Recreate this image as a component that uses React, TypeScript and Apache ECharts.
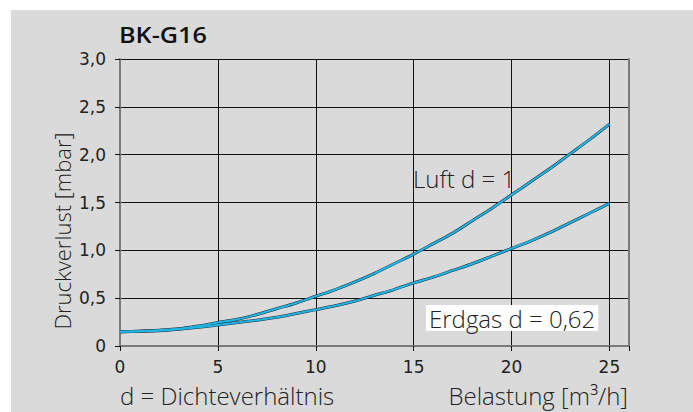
import React, { useEffect, useRef } from "react";
import * as echarts from "echarts";

const xValues = [0, 1, 2, 3, 4, 5, 6, 7, 8, 9, 10, 11, 12, 13, 14, 15, 16, 17, 18, 19, 20, 21, 22, 23, 24, 25];
const luft = [0.15, 0.155, 0.165, 0.18, 0.21, 0.245, 0.28, 0.33, 0.39, 0.45, 0.52, 0.59, 0.67, 0.76, 0.86, 0.96, 1.07, 1.18, 1.31, 1.44, 1.58, 1.72, 1.86, 2.01, 2.16, 2.32];
const erdgas = [0.15, 0.155, 0.16, 0.175, 0.195, 0.22, 0.245, 0.27, 0.3, 0.34, 0.38, 0.42, 0.47, 0.53, 0.59, 0.66, 0.72, 0.79, 0.86, 0.94, 1.02, 1.1, 1.19, 1.29, 1.39, 1.49];
const title = "BK-G16";
const yTitle = "Druckverlust [mbar]";
const xTitleLeft = "d = Dichteverhältnis";
const xTitleRight = "Belastung [m³/h]";
const luftLabel = "Luft d = 1";
const erdgasLabel = "Erdgas d = 0,62";

const FONT = "'Open Sans', 'Noto Sans', sans-serif";
const TICKFONT = "'DejaVu Sans', sans-serif";
const TXT = "#222";

export default function App() {
  const ref = useRef<HTMLDivElement>(null);
  useEffect(() => {
    const chart = echarts.init(ref.current!, null, { renderer: "svg" });
    const pair = (arr: number[]) => xValues.map((x, i) => [x, arr[i]]);
    const mkSeries = (name: string, arr: number[]) => [
      {
        name: name + "-edge",
        type: "line",
        data: pair(arr),
        showSymbol: false,
        symbol: "none",
        smooth: 0.3,
        lineStyle: { color: "#1d3240", width: 3 },
        z: 3,
      },
      {
        name,
        type: "line",
        data: pair(arr),
        showSymbol: false,
        symbol: "none",
        smooth: 0.3,
        lineStyle: { color: "#22b4e2", width: 2 },
        z: 4,
      },
    ];
    chart.setOption({
      animation: false,
      backgroundColor: "#ffffff",
      grid: { left: 120, top: 59, right: 64, bottom: 66, containLabel: false },
      xAxis: {
        type: "value",
        min: 0,
        max: 26,
        interval: 5,
        axisLine: { show: true, onZero: false, lineStyle: { color: "#7a7a7a", width: 2 } },
        axisTick: { show: true, inside: false, length: 5, lineStyle: { color: "#111", width: 1 } },
        axisLabel: {
          margin: 12,
          color: TXT,
          fontSize: 17,
          fontFamily: TICKFONT,
          formatter: (v: number) => (v % 5 === 0 ? String(v) : ""),
        },
        splitLine: { show: true, lineStyle: { color: "#111", width: 1 } },
      },
      yAxis: [
        {
          type: "value",
          min: 0,
          max: 3,
          interval: 0.5,
          axisLine: { show: true, lineStyle: { color: "#7a7a7a", width: 2 } },
          axisTick: { show: true, inside: false, length: 5, lineStyle: { color: "#111", width: 1 } },
          axisLabel: {
            margin: 14,
            color: TXT,
            fontSize: 17,
            fontFamily: TICKFONT,
            formatter: (v: number) => (v === 0 ? "0" : v.toFixed(1).replace(".", ",")),
          },
          splitLine: { show: true, lineStyle: { color: "#111", width: 1 } },
        },
        {
          type: "value",
          min: 0,
          max: 3,
          interval: 0.5,
          position: "right",
          axisLine: { show: true, lineStyle: { color: "#7a7a7a", width: 2 } },
          axisTick: { show: false },
          axisLabel: { show: false },
          splitLine: { show: false },
        },
      ],
      series: [...mkSeries("Luft", luft), ...mkSeries("Erdgas", erdgas)],
      graphic: [
        {
          type: "rect",
          shape: { x: 11, y: 10, width: 700, height: 420 },
          style: { fill: "#dadada" },
          z: -100,
          silent: true,
        },
        {
          type: "text",
          x: 119,
          y: 35,
          scaleX: 1.2,
          style: { text: title, fill: "#111", font: `600 21px ${FONT}`, textVerticalAlign: "middle" },
        },
        {
          type: "text",
          x: 62,
          y: 231,
          rotation: Math.PI / 2,
          style: { text: yTitle, fill: TXT, font: `300 22px ${FONT}`, textAlign: "center", textVerticalAlign: "middle" },
        },
        {
          type: "text",
          x: 120,
          y: 395,
          style: { text: xTitleLeft, fill: TXT, font: `300 24px ${FONT}`, textVerticalAlign: "middle" },
        },
        {
          type: "text",
          x: 628,
          y: 395,
          style: { text: xTitleRight, fill: TXT, font: `300 24px ${FONT}`, textAlign: "right", textVerticalAlign: "middle" },
        },
        {
          type: "text",
          x: 413,
          y: 178,
          z: 10,
          style: { text: luftLabel, fill: TXT, font: `300 24px ${FONT}`, textVerticalAlign: "middle" },
        },
        {
          type: "text",
          x: 426,
          y: 318,
          z: 10,
          style: {
            text: erdgasLabel,
            fill: TXT,
            font: `300 24px ${FONT}`,
            textVerticalAlign: "middle",
            backgroundColor: "#ffffff",
            padding: [1, 3, 1, 3],
          },
        },
      ],
    });
    return () => chart.dispose();
  }, []);
  return (
    <div
      ref={ref}
      style={{ position: "absolute", left: 0, top: 0, width: 693, height: 412, background: "#fff" }}
    />
  );
}
